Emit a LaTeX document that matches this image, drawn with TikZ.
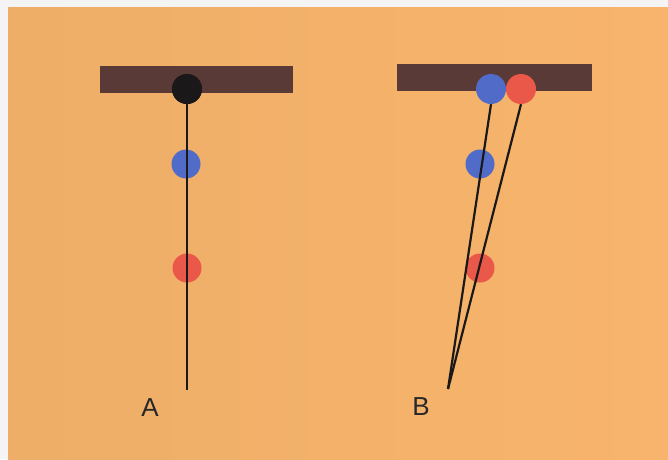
\documentclass[tikz,border=0pt]{standalone}
\usepackage{fontspec}
\setmainfont{Liberation Sans}
\definecolor{bgleft}{RGB}{238,174,104}
\definecolor{bgright}{RGB}{248,180,108}
\definecolor{edgegray}{RGB}{244,244,244}
\definecolor{barbrown}{RGB}{90,58,54}
\definecolor{ballblue}{RGB}{80,108,200}
\definecolor{ballred}{RGB}{234,88,74}
\definecolor{ballblack}{RGB}{26,24,24}
\definecolor{labelgray}{RGB}{40,40,40}
\begin{document}
\begin{tikzpicture}[x=1pt,y=-1pt,
  bar/.style={fill=barbrown,draw=none},
  ball/.style={circle,draw=none,minimum size=30pt,inner sep=0pt},
  wire/.style={draw=ballblack,line width=2.2pt},
  lbl/.style={text=labelgray,font=\fontsize{26}{26}\selectfont,inner sep=0pt}]
\useasboundingbox (0,0) rectangle (668,459);
\fill[edgegray] (0,0) rectangle (668,459);
\shade[left color=bgleft,right color=bgright] (8,7) rectangle (668,459);
% bars
\path[bar] (100,66) rectangle (293,93);
\path[bar] (397,64) rectangle (592,91);
% A
\node[ball,fill=ballblack] (k) at (187,89) {};
\node[ball,fill=ballblue,minimum size=29pt] (ab) at (186,164) {};
\node[ball,fill=ballred,minimum size=29pt] (ar) at (187,268) {};
\coordinate (aend) at (187,390);
\draw[wire] (k.center) -- (aend);
\node[ball,fill=ballblack] at (k) {};
\node[lbl] (la) at (150,408) {A};
% B
\node[ball,fill=ballblue,minimum size=29pt] (bb) at (480,164) {};
\node[ball,fill=ballred,minimum size=29pt] (br) at (480,268) {};
\node[ball,fill=ballblue] (tb) at (491,89) {};
\node[ball,fill=ballred] (tr) at (521,89) {};
\coordinate (bend) at (448,389);
\draw[wire] (tb.south) -- (bend);
\draw[wire] (tr.south) -- (bend);
\node[lbl] (lb) at (421,407) {B};
\end{tikzpicture}
\end{document}
